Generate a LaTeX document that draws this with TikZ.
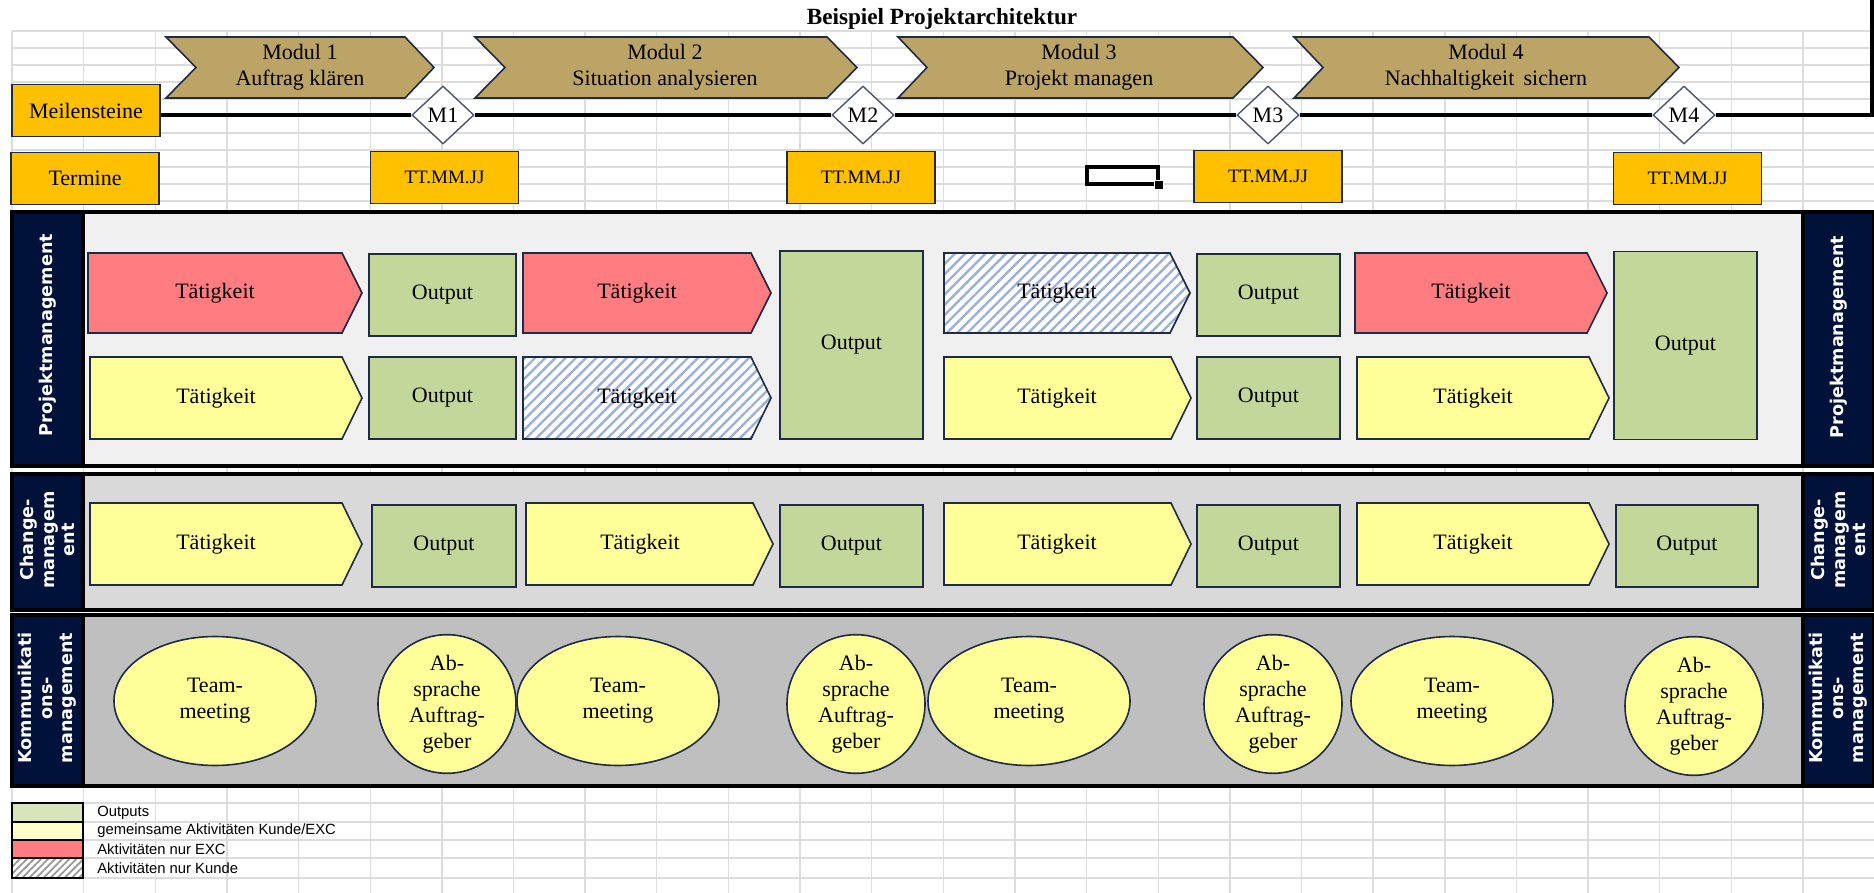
\documentclass[tikz,border=0pt]{standalone}
\usepackage{fontspec}
\setmainfont{Liberation Serif}
\newfontfamily\lanefont{DejaVu Sans}
\newfontfamily\legendfont{Liberation Sans}
\usepackage{tikz}
\usetikzlibrary{shapes.geometric, patterns.meta, calc, positioning}
\usepackage{xcolor}
\definecolor{modtan}{HTML}{BBA466}
\definecolor{msamber}{HTML}{FFC000}
\definecolor{lanenavy}{HTML}{00123A}
\definecolor{edgenavy}{HTML}{1F2A44}
\definecolor{actred}{HTML}{FF7C80}
\definecolor{actyellow}{HTML}{FFFF99}
\definecolor{outgreen}{HTML}{C4D79B}
\definecolor{hatchblue}{HTML}{9CB1D5}
\definecolor{gridgray}{HTML}{DADCDD}
\definecolor{laneone}{HTML}{F0F0F0}
\definecolor{lanetwo}{HTML}{D9D9D9}
\definecolor{lanethree}{HTML}{BFBFBF}
\definecolor{keygreen}{HTML}{D8E4BC}
\definecolor{keyyellow}{HTML}{FFFFCC}
\tikzset{
  gridline/.style={draw=gridgray, line width=0.7pt},
  modul/.style={draw=edgenavy, line width=0.8pt, fill=modtan},
  msbox/.style={draw=edgenavy, line width=0.9pt, fill=msamber, minimum width=74pt, minimum height=26pt, inner sep=0pt},
  datebox/.style={msbox, font=\fontsize{9.5}{11}\selectfont},
  milestone/.style={draw=edgenavy!80, line width=0.7pt, fill=white, diamond, minimum width=31pt, minimum height=29pt, inner sep=0pt},
  mline/.style={line width=1.6pt},
  lanebox/.style={draw=black, line width=2pt},
  lanelabel/.style={rotate=90, text=white, align=center, font=\lanefont\bfseries\fontsize{8.8}{10.3}\selectfont},
  actbox/.style={draw=edgenavy, line width=0.8pt},
  actred/.style={actbox, fill=actred},
  actyellow/.style={actbox, fill=actyellow},
  actkunde/.style={actbox, preaction={fill=white}, pattern={Lines[angle=45, distance=3.6pt, line width=1.2pt]}, pattern color=hatchblue},
  outbox/.style={draw=edgenavy, line width=0.8pt, fill=outgreen, inner sep=0pt},
  meeting/.style={ellipse, draw=edgenavy, line width=0.8pt, fill=actyellow, inner sep=0pt, align=center},
  keybox/.style={draw=black, line width=0.7pt},
  keytext/.style={anchor=west, font=\legendfont\fontsize{7.4}{9}\selectfont}
}

\begin{document}
\begin{tikzpicture}[x=0.5pt, y=-0.5pt, font=\fontsize{11}{13}\selectfont]
\useasboundingbox (0,0) rectangle (1874,893);
% sheet grid
\foreach \gx in {0,...,25} \draw[gridline] ({12+71.64*\gx},31) -- ({12+71.64*\gx},893);
\foreach \gy in {0,...,10} \draw[gridline] (12,{31+17*\gy}) -- (1874,{31+17*\gy});
\foreach \gy in {787,803,822,840,858,878} \draw[gridline] (12,\gy) -- (1874,\gy);

\node[font=\bfseries\fontsize{11.6}{13}\selectfont] (title) at (942,19) {Beispiel Projektarchitektur};

% module
\draw[modul] (166,37) -- (405,37) -- (434,67.5) -- (405,98) -- (166,98) -- (196,67.5) -- cycle;
\draw[modul] (475,37) -- (827,37) -- (857,67.5) -- (827,98) -- (475,98) -- (505,67.5) -- cycle;
\draw[modul] (898,37) -- (1233,37) -- (1263,67.5) -- (1233,98) -- (898,98) -- (927,67.5) -- cycle;
\draw[modul] (1294,37) -- (1649,37) -- (1679,67.5) -- (1649,98) -- (1294,98) -- (1323,67.5) -- cycle;
\node[align=center] (mod1) at (300,67) {Modul 1\\Auftrag klären};
\node[align=center] (mod2) at (665,67) {Modul 2\\Situation analysieren};
\node[align=center] (mod3) at (1079,67) {Modul 3\\Projekt managen};
\node[align=center] (mod4) at (1486,67) {Modul 4\\Nachhaltigkeit\, sichern};

% meilensteine und termine
\node[msbox] (ms) at (86,110.5) {Meilensteine};
\node[msbox] (ter) at (85,178.5) {Termine};
\node[milestone] (m1) at (443,115) {M1};
\node[milestone] (m2) at (863,115) {M2};
\node[milestone] (m3) at (1268,115) {M3};
\node[milestone] (m4) at (1684,115) {M4};
\coordinate (rand) at (1872,115);
\draw[mline] (ms.east |- m1) -- (m1.west);
\draw[mline] (m1.east) -- (m2.west);
\draw[mline] (m2.east) -- (m3.west);
\draw[mline] (m3.east) -- (m4.west);
\draw[mline] (m4.east) -- (rand) -- (rand |- 0,0);
\node[datebox] (tt1) at (444.5,177.5) {TT.MM.JJ};
\node[datebox] (tt2) at (861,177.5) {TT.MM.JJ};
\node[datebox] (tt3) at (1268,176.5) {TT.MM.JJ};
\node[datebox] (tt4) at (1687.5,178.5) {TT.MM.JJ};
\draw[line width=1.8pt] (1087,167) rectangle (1158,184);
\draw[fill=black, draw=white, line width=0.4pt] (1154,180) rectangle (1163,189);

% lanes
\draw[lanebox, fill=laneone] (12,212) rectangle (1874,466);
\draw[lanebox, fill=lanetwo] (12,474) rectangle (1874,610);
\draw[lanebox, fill=lanethree] (12,615) rectangle (1874,786);
\foreach \ya/\yb in {212/466, 474/610, 615/786} {
  \draw[lanebox, fill=lanenavy] (12,\ya) rectangle (83,\yb);
  \draw[lanebox, fill=lanenavy] (1803,\ya) rectangle (1874,\yb);
}
\node[lanelabel] (pmL) at (47.5,335) {Projektmanagement};
\node[lanelabel] (pmR) at (1838.5,337) {Projektmanagement};
\node[lanelabel] (cmL) at (47.5,540) {Change-\\managem\\ent};
\node[lanelabel] (cmR) at (1838.5,540) {Change-\\managem\\ent};
\node[lanelabel] (kmL) at (47.5,698) {Kommunikati\\ons-\\management};
\node[lanelabel] (kmR) at (1838.5,698) {Kommunikati\\ons-\\management};

% projektmanagement
\draw[actred] (88,253) -- (342,253) -- (362,293) -- (342,333) -- (88,333) -- cycle (215,293) node (pa1) {Tätigkeit};
\draw[actyellow] (90,357) -- (342,357) -- (362,398) -- (342,439) -- (90,439) -- cycle (216,398) node (pb1) {Tätigkeit};
\draw[actred] (523,253) -- (751,253) -- (771,293) -- (751,333) -- (523,333) -- cycle (637,293) node (pa2) {Tätigkeit};
\draw[actkunde] (523,357) -- (751,357) -- (771,398) -- (751,439) -- (523,439) -- cycle (637,398) node (pb2) {Tätigkeit};
\draw[actkunde] (944,253) -- (1170,253) -- (1190,293) -- (1170,333) -- (944,333) -- cycle (1057,293) node (pa3) {Tätigkeit};
\draw[actyellow] (944,357) -- (1171,357) -- (1191,398) -- (1171,439) -- (944,439) -- cycle (1057,398) node (pb3) {Tätigkeit};
\draw[actred] (1355,253) -- (1587,253) -- (1607,293) -- (1587,333) -- (1355,333) -- cycle (1471,293) node (pa4) {Tätigkeit};
\draw[actyellow] (1357,357) -- (1589,357) -- (1609,398) -- (1589,439) -- (1357,439) -- cycle (1473,398) node (pb4) {Tätigkeit};
\node[outbox, minimum width=73.5pt, minimum height=41pt] (po1) at (442.5,295) {Output};
\node[outbox, minimum width=73.5pt, minimum height=41pt] (po2) at (442.5,398) {Output};
\node[outbox, minimum width=71.5pt, minimum height=94pt] (po3) at (851.5,345) {Output};
\node[outbox, minimum width=71.5pt, minimum height=41pt] (po4) at (1268.5,295) {Output};
\node[outbox, minimum width=71.5pt, minimum height=41pt] (po5) at (1268.5,398) {Output};
\node[outbox, minimum width=71.5pt, minimum height=94pt] (po6) at (1685.5,345.5) {Output};

% changemanagement
\draw[actyellow] (90,503) -- (342,503) -- (362,544) -- (342,585) -- (90,585) -- cycle (216,544) node (ca1) {Tätigkeit};
\draw[actyellow] (526,503) -- (753,503) -- (773,544) -- (753,585) -- (526,585) -- cycle (640,544) node (ca2) {Tätigkeit};
\draw[actyellow] (944,503) -- (1171,503) -- (1191,544) -- (1171,585) -- (944,585) -- cycle (1057,544) node (ca3) {Tätigkeit};
\draw[actyellow] (1357,503) -- (1589,503) -- (1609,544) -- (1589,585) -- (1357,585) -- cycle (1473,544) node (ca4) {Tätigkeit};
\node[outbox, minimum width=72pt, minimum height=41pt] (co1) at (444,546) {Output};
\node[outbox, minimum width=71.5pt, minimum height=41pt] (co2) at (851.5,546) {Output};
\node[outbox, minimum width=71.5pt, minimum height=41pt] (co3) at (1268.5,546) {Output};
\node[outbox, minimum width=71pt, minimum height=41pt] (co4) at (1687,546) {Output};

% kommunikationsmanagement
\node[meeting, minimum width=101pt, minimum height=64.5pt] (km1) at (215,701) {Team-\\meeting};
\node[meeting, minimum width=69pt, minimum height=65pt] (ka1) at (447,704) {Ab-\\sprache\\Auftrag-\\geber};
\node[meeting, minimum width=101pt, minimum height=64.5pt] (km2) at (618,701) {Team-\\meeting};
\node[meeting, minimum width=69pt, minimum height=65pt] (ka2) at (856,704) {Ab-\\sprache\\Auftrag-\\geber};
\node[meeting, minimum width=101pt, minimum height=64.5pt] (km3) at (1029,701) {Team-\\meeting};
\node[meeting, minimum width=69pt, minimum height=65pt] (ka3) at (1273,704) {Ab-\\sprache\\Auftrag-\\geber};
\node[meeting, minimum width=101pt, minimum height=64.5pt] (km4) at (1452,701) {Team-\\meeting};
\node[meeting, minimum width=69pt, minimum height=65pt] (ka4) at (1694,706) {Ab-\\sprache\\Auftrag-\\geber};

% legende
\draw[keybox, fill=keygreen] (12,803) rectangle (83,822) (90,812.5) node[keytext] (k1) {Outputs};
\draw[keybox, fill=keyyellow] (12,822) rectangle (83,840) (90,831) node[keytext] (k2) {gemeinsame Aktivitäten Kunde/EXC};
\draw[keybox, fill=actred] (12,840) rectangle (83,858) (90,849) node[keytext] (k3) {Aktivitäten nur EXC};
\draw[keybox, preaction={fill=white}, pattern={Lines[angle=45, distance=2.5pt, line width=0.9pt]}, pattern color=gray!80] (12,858) rectangle (83,878) (90,868) node[keytext] (k4) {Aktivitäten nur Kunde};
\end{tikzpicture}
\end{document}
